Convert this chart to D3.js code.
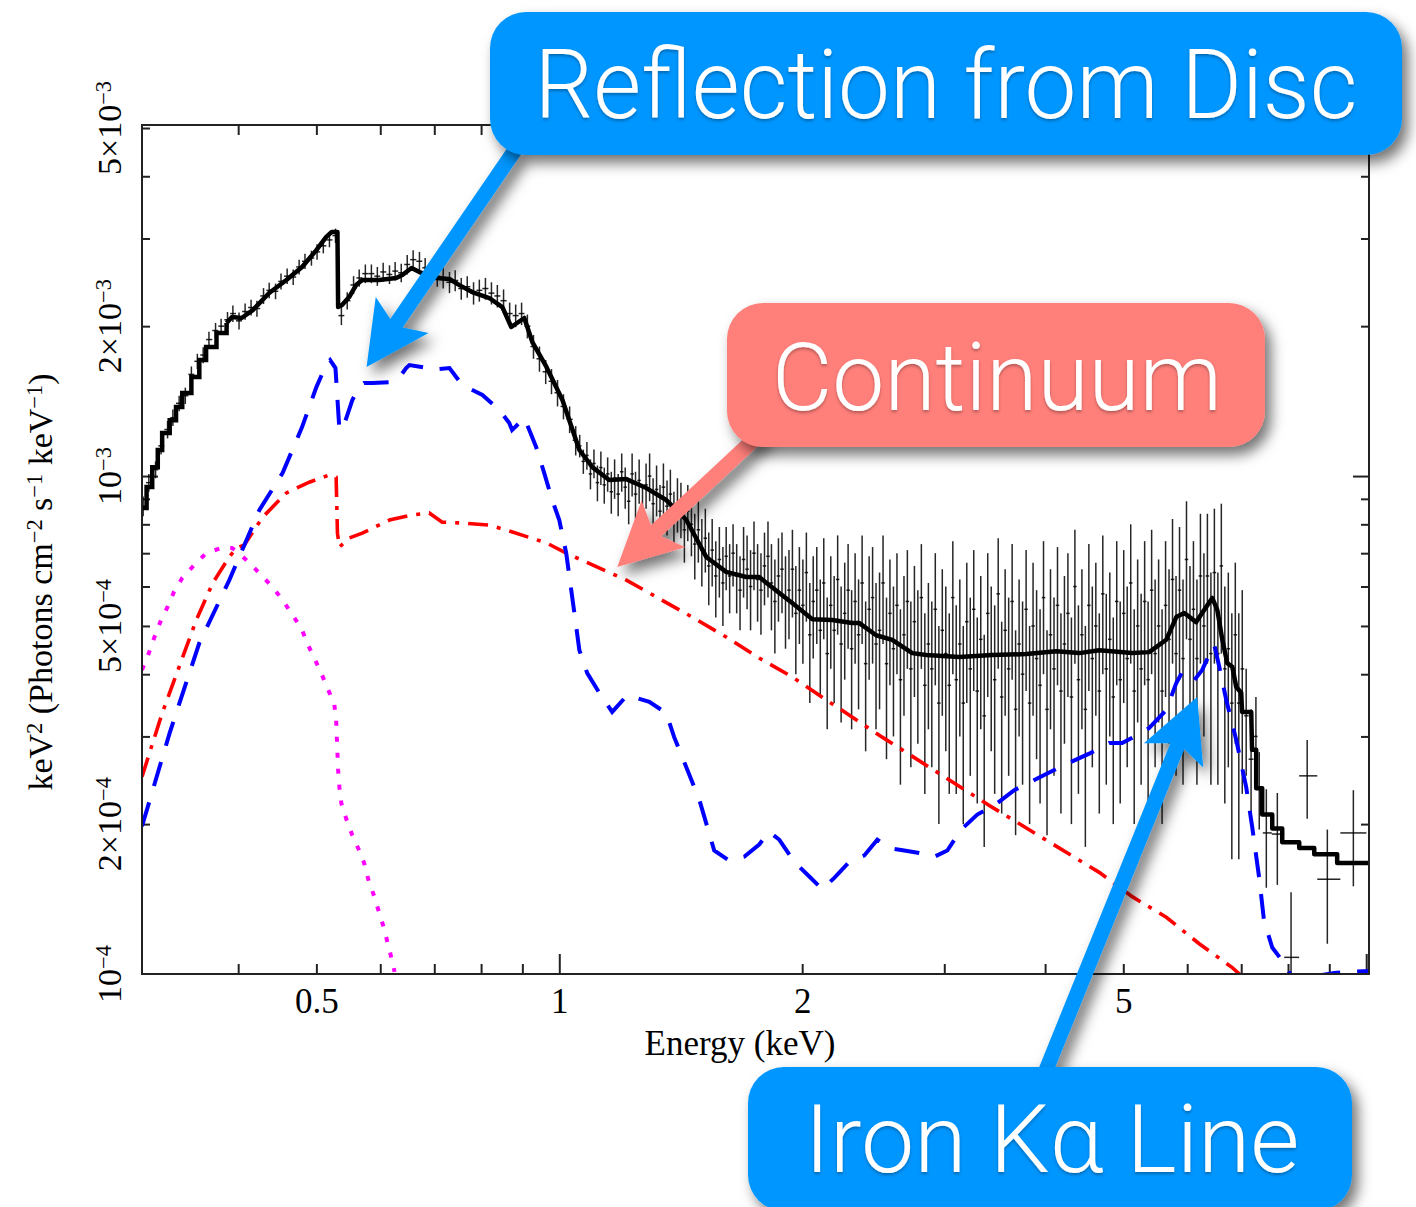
<!DOCTYPE html>
<html><head><meta charset="utf-8">
<script src="https://cdn.jsdelivr.net/npm/d3@7"></script>
<style>body{margin:0;background:#fff}svg{display:block}</style>
</head><body>
<svg id="chart" width="1416" height="1207"></svg>
<script>
// ---------- DATA (flux in units of 1e-3 keV^2 Photons cm^-2 s^-1 keV^-1) ----------
// axis tick labels
const xLabelVals = [0.5, 1, 2, 5];
const xLabelText = ["0.5", "1", "2", "5"];
const xMinorTicks = [0.4,0.5,0.6,0.7,0.8,0.9,2,3,4,5,6,7,8,9];
const xMajorTicks = [1, 10];
const yLabelVals = [0.1, 0.2, 0.5, 1, 2, 5];
const yLabelMant = ["10", "2×10", "5×10", "10", "2×10", "5×10"];
const yLabelExp  = ["−4", "−4", "−4", "−3", "−3", "−3"];
const yMinorTicks = [0.2,0.3,0.4,0.5,0.6,0.7,0.8,0.9,2,3,4,5];
const yMajorTicks = [1];

// total model (binned staircase at lowest energies, then smooth)
const modelStepE = [0.304,0.308,0.313,0.318,0.322,0.329,0.335,0.341,0.350,0.358,0.365,0.376,0.387];
const modelStepF = [0.863,0.951,1.042,1.128,1.220,1.295,1.376,1.468,1.581,1.710,1.816,1.937,2.029];
const modelE = [0.387,0.393,0.404,0.417,0.437,0.459,0.480,0.500,0.514,0.522,0.531,0.532,0.538,0.549,0.560,0.570,0.598,0.628,0.639,0.656,0.671,0.704,0.731,0.752,0.780,0.819,0.850,0.872,0.905,0.926,0.964,1.009,1.059,1.099,1.153,1.211,1.282,1.357,1.437,1.521,1.610,1.705,1.769,1.874,1.944,2.059,2.179,2.307,2.352,2.470,2.586,2.738,2.850,3.131,3.440,3.791,4.129,4.410,4.668,5.129,5.384,5.652,5.816,5.950,6.156,6.334,6.446,6.539,6.633,6.727,6.824,6.902,7.000,7.017,7.203,7.220,7.306,7.306,7.432,7.432,7.648,7.648,7.869,7.869,8.260,8.260,8.622,8.622,9.205,9.205,10.08];
const modelF = [2.029,2.086,2.077,2.154,2.331,2.475,2.629,2.843,3.019,3.090,3.090,2.185,2.205,2.288,2.418,2.475,2.475,2.498,2.533,2.617,2.568,2.498,2.487,2.418,2.342,2.278,2.185,1.992,2.077,1.858,1.656,1.421,1.128,1.042,0.982,0.986,0.946,0.895,0.816,0.688,0.642,0.627,0.627,0.582,0.556,0.516,0.514,0.507,0.507,0.479,0.469,0.441,0.437,0.433,0.437,0.439,0.445,0.441,0.447,0.441,0.443,0.469,0.521,0.531,0.509,0.546,0.569,0.538,0.469,0.421,0.414,0.377,0.367,0.336,0.336,0.282,0.282,0.236,0.236,0.209,0.209,0.196,0.196,0.184,0.184,0.179,0.179,0.174,0.174,0.167,0.167];

// reflection component (blue dashed)
const reflE = [0.304,0.329,0.358,0.390,0.425,0.454,0.480,0.500,0.514,0.520,0.528,0.534,0.541,0.554,0.565,0.573,0.587,0.621,0.633,0.646,0.652,0.686,0.696,0.710,0.731,0.758,0.803,0.843,0.867,0.874,0.905,0.918,0.936,0.958,0.980,1.000,1.020,1.044,1.059,1.083,1.121,1.163,1.214,1.293,1.357,1.388,1.491,1.556,1.624,1.695,1.769,1.820,1.874,1.955,2.041,2.118,2.192,2.288,2.388,2.478,2.564,2.676,2.793,2.916,3.026,3.149,3.296,3.459,3.663,3.933,4.225,4.537,4.804,4.984,5.129,5.384,5.652,5.816,5.916,6.001,6.122,6.262,6.427,6.482,6.575,6.708,6.902,7.101,7.224,7.372,7.470,7.648,7.847,7.960,8.210,8.500,8.800,9.130,9.470,10.08];
const reflF = [0.198,0.305,0.462,0.618,0.855,1.014,1.254,1.509,1.671,1.710,1.648,1.237,1.266,1.421,1.509,1.537,1.537,1.545,1.574,1.648,1.671,1.648,1.656,1.640,1.648,1.523,1.455,1.357,1.278,1.237,1.308,1.237,1.144,1.014,0.895,0.816,0.700,0.531,0.447,0.402,0.367,0.336,0.363,0.352,0.334,0.299,0.224,0.177,0.169,0.172,0.182,0.193,0.186,0.168,0.157,0.148,0.156,0.168,0.173,0.186,0.179,0.177,0.175,0.172,0.177,0.195,0.209,0.218,0.234,0.248,0.263,0.277,0.291,0.291,0.298,0.312,0.339,0.384,0.404,0.402,0.389,0.408,0.447,0.458,0.414,0.355,0.295,0.237,0.197,0.155,0.128,0.113,0.107,0.103,0.095,0.093,0.0995,0.1005,0.1009,0.1014];

// continuum component (red dash-dot)
const contE = [0.304,0.322,0.338,0.355,0.372,0.390,0.398,0.407,0.421,0.429,0.459,0.490,0.519,0.529,0.531,0.534,0.549,0.570,0.616,0.657,0.690,0.704,0.716,0.758,0.819,0.875,0.964,1.020,1.211,1.461,1.610,1.769,1.944,2.143,2.354,2.513,3.411,4.668,5.129,5.652,6.210,6.824,7.060];
const contF = [0.249,0.334,0.414,0.514,0.610,0.688,0.717,0.727,0.790,0.827,0.925,0.972,1.005,0.995,0.768,0.720,0.751,0.768,0.816,0.835,0.843,0.824,0.808,0.805,0.797,0.772,0.734,0.700,0.618,0.521,0.475,0.431,0.395,0.355,0.321,0.299,0.218,0.160,0.143,0.130,0.115,0.103,0.098];

// soft thermal component (magenta dotted)
const softE = [0.304,0.310,0.315,0.321,0.327,0.333,0.341,0.353,0.365,0.381,0.393,0.401,0.413,0.427,0.441,0.454,0.467,0.479,0.487,0.497,0.507,0.516,0.526,0.529,0.530,0.531,0.532,0.534,0.537,0.545,0.554,0.565,0.573,0.581,0.590,0.598,0.606,0.614,0.621,0.625];
const softF = [0.408,0.441,0.475,0.514,0.546,0.585,0.624,0.663,0.700,0.717,0.717,0.700,0.669,0.633,0.599,0.564,0.526,0.495,0.462,0.431,0.402,0.375,0.350,0.324,0.299,0.278,0.257,0.237,0.220,0.204,0.190,0.177,0.167,0.153,0.143,0.133,0.124,0.114,0.106,0.101];

// observed spectrum: bin energy, flux, 1-sigma error
const dataE = [
 0.305,0.310,0.316,0.321,0.327,0.332,0.338,0.344,0.350,0.356,0.362,0.368,0.375,0.381,0.388,0.394,0.401,0.408,0.415,0.422,
 0.430,0.437,0.445,0.452,0.460,0.468,0.476,0.484,0.493,0.501,0.510,0.519,0.528,0.537,0.546,0.556,0.565,0.575,0.585,0.595,
 0.605,0.616,0.626,0.637,0.648,0.659,0.671,0.682,0.694,0.706,0.718,0.731,0.743,0.756,0.769,0.783,0.796,0.810,0.824,0.838,
 0.853,0.868,0.883,0.898,0.913,0.929,0.945,0.962,0.978,0.995,1.012,1.030,1.048,
 1.060,1.071,1.082,1.093,1.104,1.115,1.126,1.137,1.148,1.160,1.171,1.183,1.195,1.207,1.219,1.231,1.243,1.256,1.268,1.281,
 1.294,1.307,1.320,1.333,1.346,1.360,1.373,1.387,1.401,1.415,1.429,1.443,1.458,1.472,1.487,1.502,1.517,1.532,1.547,1.563,
 1.579,1.595,
 1.610,1.626,1.642,1.659,1.675,1.692,1.709,1.726,1.743,1.761,1.778,1.796,1.814,1.832,1.850,1.869,1.888,1.907,1.926,1.945,
 1.964,1.984,2.004,2.024,2.044,2.064,2.085,2.106,2.127,2.148,2.170,2.191,2.213,2.235,2.258,2.280,2.303,2.326,2.349,2.373,
 2.397,2.421,2.445,2.469,2.494,2.519,2.544,2.569,2.595,2.621,2.647,2.674,2.700,2.727,2.755,2.782,2.810,2.838,2.867,2.895,
 2.924,2.954,2.983,3.013,3.043,3.074,3.104,3.136,3.167,3.199,3.231,3.263,3.296,3.329,3.362,3.396,3.430,3.464,3.499,3.534,
 3.569,3.605,3.641,3.677,3.714,3.751,3.789,3.827,3.865,3.904,3.943,3.982,4.022,4.062,4.103,4.144,4.185,4.227,4.269,4.312,
 4.355,4.399,4.443,4.487,4.532,4.577,4.623,4.669,4.716,4.763,4.811,4.859,4.907,4.956,5.006,5.056,5.107,5.158,5.209,5.261,
 5.314,5.367,5.421,5.475,5.530,5.585,5.641,5.697,5.754,5.812,5.870,5.929,5.988,6.048,6.108,6.169,6.231,6.293,6.356,6.420,
 6.484,6.549,6.614,6.680,6.747,6.815,6.883,6.952,7.021,
 7.10,7.20,7.30,7.37,7.52,7.76,8.07,8.45,8.95,9.64];
const dataF = [
 0.87,0.97,1.03,1.15,1.24,1.31,1.40,1.45,1.60,1.70,1.75,1.88,1.96,2.00,2.06,2.12,2.05,2.14,2.18,2.17,
 2.30,2.36,2.35,2.46,2.52,2.51,2.63,2.70,2.74,2.82,2.90,2.98,3.04,2.10,2.25,2.42,2.50,2.55,2.55,2.52,
 2.57,2.54,2.58,2.56,2.66,2.72,2.70,2.62,2.55,2.52,2.50,2.45,2.47,2.38,2.40,2.33,2.36,2.38,2.33,2.30,
 2.25,2.12,2.10,2.12,2.00,1.82,1.72,1.62,1.55,1.47,1.38,1.30,1.18,
 1.15,1.07,1.10,1.01,1.06,0.97,1.04,0.96,1.01,0.93,0.99,0.92,1.02,0.95,0.89,1.01,0.92,0.98,0.86,0.96,
 1.00,0.88,0.94,0.85,0.95,0.87,0.92,0.82,0.88,0.86,0.78,0.85,0.80,0.73,0.78,0.71,0.75,0.66,0.71,0.63,
 0.68,0.61,
 0.69,0.63,0.70,0.63,0.59,0.68,0.65,0.60,0.70,0.62,0.59,0.66,0.69,0.61,0.56,0.63,0.65,0.57,0.59,0.65,
 0.53,0.59,0.55,0.64,0.48,0.56,0.59,0.49,0.61,0.44,0.55,0.49,0.62,0.46,0.53,0.59,0.45,0.56,0.48,0.61,
 0.42,0.54,0.57,0.46,0.49,0.61,0.42,0.53,0.45,0.55,0.39,0.48,0.56,0.41,0.51,0.44,0.57,0.38,0.46,0.41,
 0.54,0.35,0.49,0.44,0.38,0.57,0.39,0.46,0.35,0.51,0.41,0.54,0.37,0.47,0.33,0.53,0.44,0.39,0.58,0.36,
 0.49,0.41,0.56,0.34,0.46,0.40,0.54,0.35,0.50,0.43,0.38,0.57,0.34,0.48,0.41,0.55,0.37,0.46,0.53,0.36,
 0.60,0.39,0.48,0.34,0.55,0.43,0.50,0.37,0.58,0.41,0.47,0.36,0.56,0.39,0.53,0.43,0.61,0.37,0.50,0.41,
 0.56,0.39,0.59,0.44,0.50,0.37,0.55,0.47,0.62,0.44,0.59,0.43,0.68,0.47,0.54,0.43,0.63,0.50,0.63,0.44,
 0.64,0.44,0.66,0.41,0.45,0.35,0.48,0.35,0.41,
 0.33,0.27,0.30,0.237,0.192,0.191,0.108,0.250,0.155,0.192];
const dataErr = [
 0.04,0.04,0.04,0.045,0.05,0.05,0.05,0.055,0.06,0.06,0.065,0.07,0.07,0.07,0.075,0.08,0.08,0.08,0.08,0.08,
 0.085,0.085,0.085,0.09,0.09,0.09,0.09,0.095,0.095,0.10,0.10,0.10,0.10,0.09,0.09,0.10,0.10,0.11,0.11,0.11,
 0.11,0.11,0.11,0.11,0.12,0.12,0.12,0.12,0.12,0.12,0.12,0.12,0.12,0.12,0.12,0.12,0.12,0.12,0.12,0.12,
 0.12,0.11,0.11,0.11,0.11,0.10,0.10,0.09,0.09,0.09,0.08,0.08,0.08,
 0.06,0.06,0.07,0.07,0.07,0.08,0.08,0.08,0.08,0.09,0.09,0.09,0.09,0.09,0.09,0.10,0.10,0.10,0.10,0.10,
 0.11,0.11,0.11,0.11,0.11,0.11,0.11,0.11,0.11,0.11,0.11,0.11,0.11,0.11,0.11,0.11,0.11,0.11,0.11,0.11,
 0.11,0.11,
 0.10,0.10,0.10,0.10,0.10,0.11,0.11,0.11,0.11,0.11,0.11,0.11,0.12,0.12,0.12,0.12,0.12,0.12,0.12,0.13,
 0.13,0.13,0.13,0.13,0.13,0.13,0.13,0.13,0.14,0.13,0.14,0.14,0.14,0.14,0.14,0.14,0.14,0.14,0.14,0.15,
 0.14,0.15,0.15,0.15,0.15,0.15,0.15,0.15,0.15,0.15,0.15,0.15,0.15,0.15,0.15,0.15,0.16,0.15,0.15,0.15,
 0.16,0.15,0.16,0.16,0.15,0.17,0.16,0.16,0.15,0.16,0.16,0.17,0.15,0.16,0.15,0.17,0.16,0.16,0.17,0.15,
 0.16,0.16,0.17,0.15,0.16,0.16,0.17,0.15,0.17,0.16,0.16,0.17,0.15,0.17,0.16,0.17,0.16,0.17,0.17,0.16,
 0.18,0.16,0.17,0.16,0.18,0.17,0.17,0.16,0.18,0.17,0.17,0.16,0.18,0.17,0.18,0.17,0.19,0.17,0.18,0.17,
 0.18,0.17,0.19,0.18,0.18,0.17,0.19,0.18,0.20,0.19,0.20,0.19,0.21,0.19,0.20,0.19,0.21,0.20,0.21,0.20,
 0.22,0.20,0.22,0.19,0.19,0.18,0.19,0.18,0.18,
 0.08,0.07,0.06,0.042,0.043,0.04,0.038,0.045,0.04,0.042];

// callout annotations: label, colour, arrow tip in data coordinates (keV, flux)
const calloutText = ["Reflection from Disc", "Continuum", "Iron Kα Line"];
const calloutColor = ["#0096FF", "#FF7F7A", "#0096FF"];
const calloutTipE = [0.577, 1.180, 6.174];
const calloutTipF = [1.656, 0.657, 0.360];

// ---------- LAYOUT ----------
const plot = {x0:142, x1:1369, y0:125, y1:974};
const x = d3.scaleLog().domain([0.304, 10.08]).range([plot.x0, plot.x1]);
const y = d3.scaleLog().domain([0.1, 5.07]).range([plot.y1, plot.y0]);
const serif = "'Liberation Serif','Times New Roman',Times,serif";
const svg = d3.select("#chart");

const defs = svg.append("defs");
defs.append("clipPath").attr("id","plotclip").append("rect")
  .attr("x",plot.x0).attr("y",plot.y0).attr("width",plot.x1-plot.x0).attr("height",plot.y1-plot.y0);
const sh = defs.append("filter").attr("id","shadow").attr("x","-40%").attr("y","-40%").attr("width","180%").attr("height","180%");
sh.append("feDropShadow").attr("dx",6).attr("dy",8).attr("stdDeviation",7).attr("flood-color","#000").attr("flood-opacity",0.55);
const tsh = defs.append("filter").attr("id","tshadow").attr("x","-10%").attr("y","-20%").attr("width","120%").attr("height","150%");
tsh.append("feDropShadow").attr("dx",0).attr("dy",2).attr("stdDeviation",1.5).attr("flood-color","#000").attr("flood-opacity",0.3);

// ---------- AXES / TICKS ----------
const axisStroke = "#222";
function tickGroup(axis, tx, ty){
  const g = svg.append("g").attr("transform",`translate(${tx},${ty})`).call(axis);
  g.select(".domain").remove();
  g.selectAll(".tick line").attr("stroke",axisStroke).attr("stroke-width",2);
  g.selectAll(".tick text").remove();
  return g;
}
tickGroup(d3.axisBottom(x).tickValues(xMinorTicks).tickSize(-10), 0, plot.y1);
tickGroup(d3.axisBottom(x).tickValues(xMajorTicks).tickSize(-20), 0, plot.y1);
tickGroup(d3.axisTop(x).tickValues(xMinorTicks).tickSize(-10), 0, plot.y0);
tickGroup(d3.axisTop(x).tickValues(xMajorTicks).tickSize(-20), 0, plot.y0);
tickGroup(d3.axisLeft(y).tickValues(yMinorTicks).tickSize(-8), plot.x0, 0);
tickGroup(d3.axisLeft(y).tickValues(yMajorTicks).tickSize(-16), plot.x0, 0);
tickGroup(d3.axisRight(y).tickValues(yMinorTicks).tickSize(-8), plot.x1, 0);
tickGroup(d3.axisRight(y).tickValues(yMajorTicks).tickSize(-16), plot.x1, 0);

// x tick labels
const xl = svg.append("g").attr("transform",`translate(0,${plot.y1})`)
  .call(d3.axisBottom(x).tickValues(xLabelVals).tickSize(0).tickPadding(14)
        .tickFormat((d,i)=>xLabelText[i]));
xl.select(".domain").remove();
xl.selectAll(".tick text").attr("font-family",serif).attr("font-size",35).attr("fill","#000");

// y tick labels (rotated, with superscripts)
yLabelVals.forEach((v,i)=>{
  const t = svg.append("text")
    .attr("transform",`translate(121,${y(v)}) rotate(-90)`)
    .attr("text-anchor","middle").attr("font-family",serif).attr("font-size",34).attr("fill","#000");
  t.append("tspan").text(yLabelMant[i]);
  t.append("tspan").attr("dy","-0.45em").attr("font-size","0.66em").text(yLabelExp[i]);
});

// axis titles
svg.append("text").attr("x",740).attr("y",1055).attr("text-anchor","middle")
  .attr("font-family",serif).attr("font-size",35).text("Energy (keV)");
const yt = svg.append("text").attr("transform","translate(52,582) rotate(-90)")
  .attr("text-anchor","middle").attr("font-family",serif).attr("font-size",34);
[["keV",0],["2",1],[" (Photons cm",0],["−2",1],[" s",0],["−1",1],[" keV",0],["−1",1],[")",0]]
  .forEach(([s,sup],k,arr)=>{
    const ts = yt.append("tspan").text(s);
    if(sup){ ts.attr("dy","-0.45em").attr("font-size","0.66em"); }
    else if(k>0 && arr[k-1][1]){ ts.attr("dy","0.297em"); }
  });

// ---------- PLOT CONTENT ----------
const gp = svg.append("g").attr("clip-path","url(#plotclip)");
const zip = (E,F)=>E.map((e,i)=>[e,F[i]]);
const line = d3.line().x(d=>x(d[0])).y(d=>y(Math.max(d[1],0.05)));

// data crosses
const xs = dataE.map(e=>x(e));
const gd = gp.append("g").attr("stroke","#000").attr("stroke-width",1.5).attr("stroke-opacity",0.85).attr("fill","none");
dataE.forEach((e,i)=>{
  const xc = xs[i];
  const left = i>0 ? (xs[i-1]+xc)/2 : xc-(xs[1]-xs[0])/2;
  const right = i<xs.length-1 ? (xs[i+1]+xc)/2 : xc+(xc-xs[i-1])/2;
  const lo = Math.max(dataF[i]-dataErr[i], 0.05), hi = dataF[i]+dataErr[i];
  gd.append("line").attr("x1",xc).attr("x2",xc).attr("y1",y(lo)).attr("y2",y(hi));
  gd.append("line").attr("x1",left).attr("x2",right).attr("y1",y(dataF[i])).attr("y2",y(dataF[i]));
});

// components
gp.append("path").datum(zip(softE,softF)).attr("d",line)
  .attr("fill","none").attr("stroke","#FF00FF").attr("stroke-width",4).attr("stroke-dasharray","5,11");
gp.append("path").datum(zip(contE,contF)).attr("d",line)
  .attr("fill","none").attr("stroke","#FF0000").attr("stroke-width",3.6).attr("stroke-dasharray","20,9,4,9");
gp.append("path").datum(zip(reflE,reflF)).attr("d",line)
  .attr("fill","none").attr("stroke","#0000FF").attr("stroke-width",4).attr("stroke-dasharray","25,17");

// total model
gp.append("path").datum(zip(modelStepE,modelStepF)).attr("d",line.curve(d3.curveStepAfter))
  .attr("fill","none").attr("stroke","#000").attr("stroke-width",4.5);
line.curve(d3.curveLinear);
gp.append("path").datum(zip(modelE,modelF)).attr("d",line)
  .attr("fill","none").attr("stroke","#000").attr("stroke-width",4.5).attr("stroke-linejoin","round");

// frame
svg.append("rect").attr("x",plot.x0).attr("y",plot.y0).attr("width",plot.x1-plot.x0).attr("height",plot.y1-plot.y0)
  .attr("fill","none").attr("stroke",axisStroke).attr("stroke-width",2);

// ---------- CALLOUTS ----------
const boxes = [
  {x:490, y:12,   w:912, h:143, tx:946,  ty:118,  fs:96, tl:823, from:[515,150]},
  {x:727, y:303,  w:538, h:144, tx:997,  ty:410,  fs:94, tl:450, from:[762,432]},
  {x:748, y:1067, w:604, h:144, tx:1052, ty:1172, fs:94, tl:495, from:[1040,1085]}
];
const ga = svg.append("g");
boxes.forEach((b,i)=>{
  const T = [x(calloutTipE[i]), y(calloutTipF[i])];
  const S = b.from;
  const dx = T[0]-S[0], dy = T[1]-S[1], len = Math.hypot(dx,dy);
  const d = [dx/len, dy/len], n = [-d[1], d[0]];
  const L = 63, W = 32, N = 12, sw = 7.5;
  const B = [T[0]-d[0]*L, T[1]-d[1]*L];
  const notch = [T[0]-d[0]*(L-N), T[1]-d[1]*(L-N)];
  const pts = [
    [S[0]+n[0]*sw, S[1]+n[1]*sw],
    [notch[0]+n[0]*sw - d[0]*2, notch[1]+n[1]*sw - d[1]*2],
    [B[0]+n[0]*W, B[1]+n[1]*W],
    T,
    [B[0]-n[0]*W, B[1]-n[1]*W],
    [notch[0]-n[0]*sw - d[0]*2, notch[1]-n[1]*sw - d[1]*2],
    [S[0]-n[0]*sw, S[1]-n[1]*sw]
  ];
  ga.append("path").attr("d","M"+pts.map(p=>p.join(",")).join("L")+"Z")
    .attr("fill",calloutColor[i]).attr("filter","url(#shadow)");
});
boxes.forEach((b,i)=>{
  ga.append("rect").attr("x",b.x).attr("y",b.y).attr("width",b.w).attr("height",b.h)
    .attr("rx",36).attr("ry",36).attr("fill",calloutColor[i]).attr("filter","url(#shadow)");
  ga.append("text").attr("x",b.tx).attr("y",b.ty).attr("text-anchor","middle")
    .attr("font-family","Roboto,'Open Sans',Lato,'Liberation Sans',sans-serif").attr("font-weight",300)
    .attr("font-size",b.fs).attr("fill","#fff")
    .attr("textLength",b.tl).attr("lengthAdjust","spacingAndGlyphs")
    .attr("filter","url(#tshadow)").text(calloutText[i]);
});
</script>
</body></html>
